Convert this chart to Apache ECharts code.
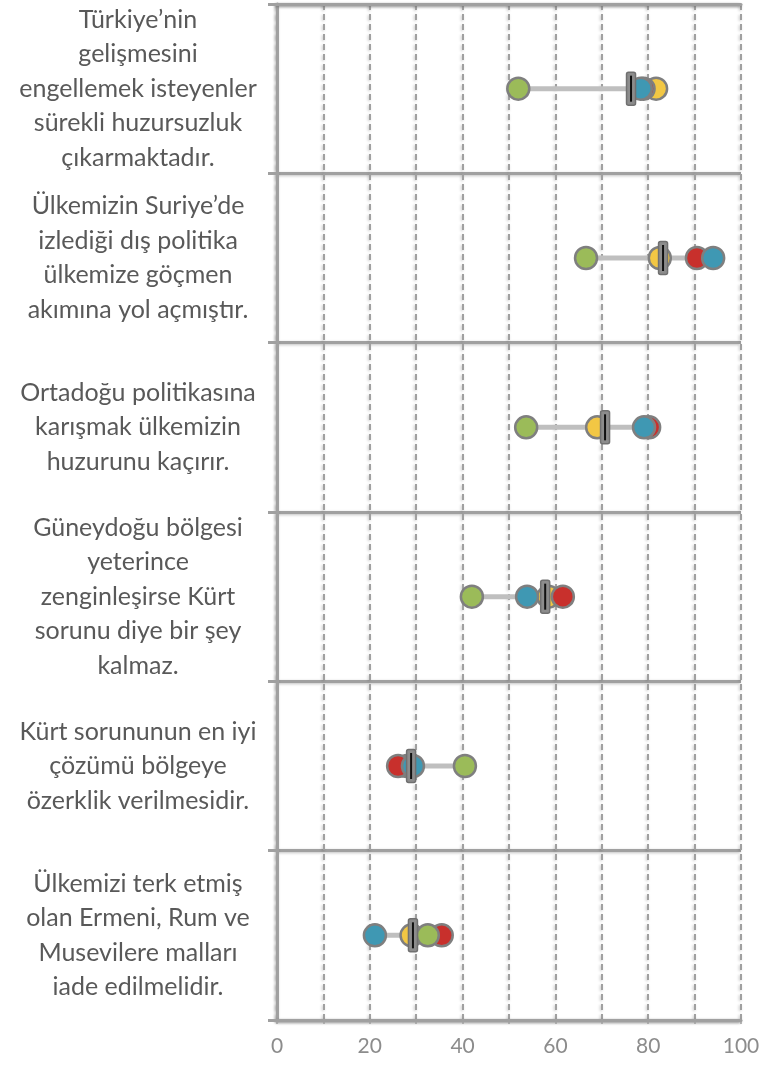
<!DOCTYPE html>
<html>
<head>
<meta charset="utf-8">
<script src="https://cdn.jsdelivr.net/npm/echarts@6/dist/echarts.min.js"></script>
<style>html,body{margin:0;padding:0;background:#fff;}#c{width:769px;height:1067px;}</style>
</head>
<body>
<div id="c"></div>
<script>
const categories = [
  "Türkiye’nin\ngelişmesini\nengellemek isteyenler\nsürekli huzursuzluk\nçıkarmaktadır.",
  "Ülkemizin Suriye’de\nizlediği dış politika\nülkemize göçmen\nakımına yol açmıştır.",
  "Ortadoğu politikasına\nkarışmak ülkemizin\nhuzurunu kaçırır.",
  "Güneydoğu bölgesi\nyeterince\nzenginleşirse Kürt\nsorunu diye bir şey\nkalmaz.",
  "Kürt sorununun en iyi\nçözümü bölgeye\nözerklik verilmesidir.",
  "Ülkemizi terk etmiş\nolan Ermeni, Rum ve\nMusevilere malları\niade edilmelidir."
];
const greenVals  = [52, 66.6, 53.7, 42, 40.5, 32.5];
const yellowVals = [81.7, 82.5, 69, 58.5, 28, 29];
const redVals    = [79, 90.5, 80.2, 61.6, 26.1, 35.5];
const blueVals   = [78.4, 94, 79.1, 53.9, 29.3, 21.1];
const overallVals = [76.3, 83.2, 70.7, 57.8, 28.9, 29.3];
const xTicks = [0, 20, 40, 60, 80, 100];

const colors = {green:'#9bbb59', yellow:'#f2c744', red:'#c8302c', blue:'#3f98b3'};
const gridColor = '#a0a0a0';

function pts(arr){ return arr.map((v,i)=>[v,i]); }
const rangeData = categories.map((c,i)=>{
  const vs=[greenVals[i],yellowVals[i],redVals[i],blueVals[i]];
  return [Math.min(...vs), i, Math.max(...vs)];
});
const overallData = overallVals.map((v,i)=>[v,i]);

const chart = echarts.init(document.getElementById('c'), null, {renderer:'canvas'});
const shadow = {shadowColor:'rgba(0,0,0,0.25)', shadowBlur:3, shadowOffsetX:-1, shadowOffsetY:1};
function scatter(name, arr, color){
  return {
    type:'scatter', name, data:pts(arr), symbol:'circle', symbolSize:22, z:3,
    itemStyle:{color, borderColor:'#7f7f7f', borderWidth:2.5, opacity:1},
    emphasis:{disabled:true}
  };
}
chart.setOption({
  animation:false,
  grid:{left:277, right:28, top:4, bottom:47, containLabel:false},
  xAxis:[{
    type:'value', min:0, max:100, interval:10,
    axisLine:{show:true, lineStyle:Object.assign({color:gridColor, width:3}, shadow)},
    axisTick:{show:true, length:4, lineStyle:{color:gridColor, width:1.5}},
    axisLabel:{color:'#8c8c8c', fontSize:21, fontFamily:'Lato', margin:16,
      formatter:v=> xTicks.indexOf(v)>=0 ? String(v) : ''},
    splitLine:{show:true, lineStyle:Object.assign({color:gridColor, width:2, type:[6,4]}, shadow)}
  },{
    type:'value', min:0, max:100, position:'top',
    axisLine:{show:true, lineStyle:Object.assign({color:gridColor, width:3}, shadow)},
    axisTick:{show:false}, axisLabel:{show:false}, splitLine:{show:false}
  }],
  yAxis:{
    type:'category', inverse:true, data:categories,
    axisLine:{show:true, lineStyle:Object.assign({color:gridColor, width:3}, shadow)},
    axisTick:{show:true, length:9, lineStyle:{color:gridColor, width:3}},
    axisLabel:{color:'#595959', fontSize:25, fontFamily:'Lato', lineHeight:34.5, align:'center', margin:139},
    splitLine:{show:true, lineStyle:Object.assign({color:gridColor, width:3}, shadow)}
  },
  series:[
    {
      type:'custom', z:1, data:rangeData, encode:{x:[0,2], y:1},
      renderItem:(params, api)=>{
        const a=api.coord([api.value(0), api.value(1)]);
        const b=api.coord([api.value(2), api.value(1)]);
        return {type:'line', shape:{x1:a[0], y1:a[1], x2:b[0], y2:b[1]}, style:{stroke:'#bfbfbf', lineWidth:5}};
      }
    },
    scatter('yellow', yellowVals, colors.yellow),
    scatter('red', redVals, colors.red),
    scatter('green', greenVals, colors.green),
    scatter('blue', blueVals, colors.blue),
    {
      type:'custom', z:5, data:overallData, encode:{x:0, y:1},
      renderItem:(params, api)=>{
        const p=api.coord([api.value(0), api.value(1)]);
        return {type:'group', children:[
          {type:'rect', shape:{x:p[0]-4.5, y:p[1]-16.5, width:9, height:33, r:2}, style:{fill:'#8c8c8c', stroke:'#707070', lineWidth:1.5}},
          {type:'line', shape:{x1:p[0], y1:p[1]-13, x2:p[0], y2:p[1]+13}, style:{stroke:'#111', lineWidth:2}}
        ]};
      }
    }
  ]
});
</script>
</body>
</html>
